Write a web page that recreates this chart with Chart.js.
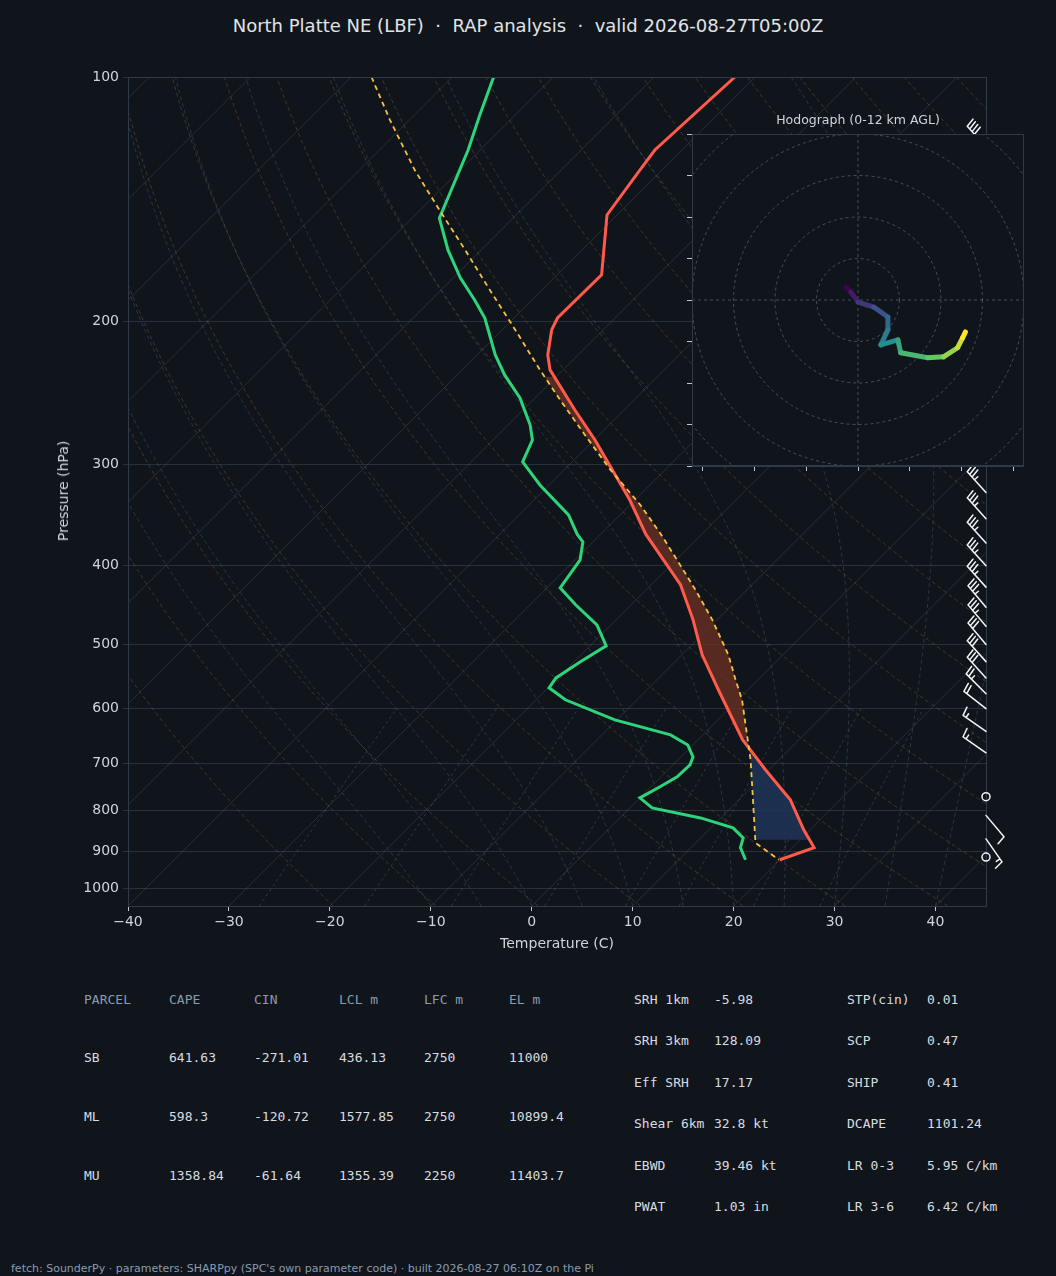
<!DOCTYPE html>
<html><head><meta charset="utf-8">
<script src="https://cdn.jsdelivr.net/npm/chart.js@4.4.1/dist/chart.umd.min.js"></script>
<style>
html,body{margin:0;padding:0;background:#10151c;width:1056px;height:1276px;overflow:hidden;font-family:"DejaVu Sans",sans-serif;}
.abs{position:absolute;white-space:nowrap;}
.mono{font-family:"DejaVu Sans Mono",monospace;font-size:13px;color:#d8dce0;}
.hd{color:#8a9bb0;}
</style></head><body>
<div class="abs" style="left:0;width:1056px;top:15px;text-align:center;font-size:18px;color:#e0e4e8;">North Platte NE (LBF) &nbsp;·&nbsp; RAP analysis &nbsp;·&nbsp; valid 2026-08-27T05:00Z</div>
<canvas id="skew" width="1056" height="966" style="position:absolute;left:0;top:0;"></canvas>
<div class="abs" style="left:557px;top:935px;transform:translateX(-50%);font-size:14px;color:#d0d4da;">Temperature (C)</div>
<div class="abs" style="left:63px;top:491px;font-size:14px;color:#d0d4da;transform:translate(-50%,-50%) rotate(-90deg);">Pressure (hPa)</div>
<div class="abs" style="left:858px;top:112px;transform:translateX(-50%);font-size:12.5px;color:#d0d4da;">Hodograph (0-12 km AGL)</div>
<canvas id="hodo" width="344" height="344" style="position:absolute;left:680px;top:134px;"></canvas>
<div id="tables"></div>
<div class="abs" style="left:11px;top:1262px;font-size:11px;color:#8a9bb0;">fetch: SounderPy · parameters: SHARPpy (SPC's own parameter code) · built 2026-08-27 06:10Z on the Pi</div>
<script>
// ---------- data ----------
const tempP = [100,123,130.2,147.9,175.3,198.1,204.9,220,229.5,257,280,332,366,422,466,515,569,655,714,777,846,890,921];
const tempT = [-62.0,-62.7,-62.2,-61.0,-55.6,-55.7,-55.1,-53.0,-51.3,-44.9,-39.9,-30.5,-25.5,-17.1,-12.4,-8.0,-2.9,4.4,9.7,15.1,19.4,22.2,20.0];
const dewP = [100,111.4,123,149.2,163.3,176.8,188.2,198.1,220,232.8,248.5,268.4,280,297.9,318.1,346.3,366,373.9,393.4,425.9,446.8,473,502,525.4,549.8,565.5,585,619.4,646.2,665,687.9,703.7,727.8,748.8,772.6,794.9,817.9,841.4,865.6,890,921];
const dewT = [-85.9,-83.5,-81.2,-77.3,-73.3,-69.3,-65.7,-62.9,-58.2,-55.3,-51.5,-47.8,-46.1,-44.9,-40.9,-35.1,-32.3,-31.0,-29.5,-28.7,-25.5,-21.4,-18.4,-19.4,-20.2,-19.9,-17.1,-10.2,-3.2,-0.5,1.2,1.7,1.6,0.9,0.0,2.2,8.0,12.2,14.2,14.9,16.6];
const parcelP = [100,113,130.2,145.8,163.3,182.9,204.9,229.5,250,276,304.8,336.5,366,399,428.3,466,515,553,585,693.7,777,877.7,921];
const parcelT = [-98.0,-91.9,-84.5,-78.1,-71.6,-65.2,-58.7,-52.3,-47.3,-41.4,-35.4,-29.0,-24.0,-19.1,-15.1,-10.5,-5.4,-2.2,0.4,7.2,11.4,15.9,19.9];
const barbP   = [122,140,160,180,200,220,245,270,300,325,350,375,400,425,450,475,500,525,550,575,600,640,680,770,812,868,914];
const barbDir = [318,318,318,318,318,318,318,318,318,318,318,318,318,318,320,320,320,318,318,315,308,305,305,0,140,145,0];
const barbSpd = [40,40,40,40,40,40,40,40,40,35,35,35,35,35,35,35,30,30,30,25,20,15,15,0,10,15,0];
const hodoU = [-2.9,-1.7,0,3.8,7.2,7.2,5.5,9.6,10.3,16.8,20.6,24.0,25.2,25.9];
const hodoV = [3.1,1.9,-0.5,-1.7,-4.1,-7.2,-10.8,-9.6,-12.7,-13.9,-13.7,-11.5,-9.1,-7.7];
const yTicks = [100,200,300,400,500,600,700,800,900,1000];
const xTicks = [-40,-30,-20,-10,0,10,20,30,40];
const tableHead = ["PARCEL","CAPE","CIN","LCL m","LFC m","EL m"];
const tableRows = [["SB","641.63","-271.01","436.13","2750","11000"],["ML","598.3","-120.72","1577.85","2750","10899.4"],["MU","1358.84","-61.64","1355.39","2250","11403.7"]];
const paramNames = [["SRH 1km","-5.98","STP(cin)","0.01"],["SRH 3km","128.09","SCP","0.47"],["Eff SRH","17.17","SHIP","0.41"],["Shear 6km","32.8 kt","DCAPE","1101.24"],["EBWD","39.46 kt","LR 0-3","5.95 C/km"],["PWAT","1.03 in","LR 3-6","6.42 C/km"]];

// ---------- tables ----------
(function(){
  let h='';const cx=[84,169,254,339,424,509];
  tableHead.forEach((t,i)=>h+=`<div class="abs mono hd" style="left:${cx[i]}px;top:992px">${t}</div>`);
  const ry=[1050,1109,1168];
  tableRows.forEach((r,j)=>r.forEach((t,i)=>h+=`<div class="abs mono" style="left:${cx[i]}px;top:${ry[j]}px">${t}</div>`));
  const py=[992,1033,1075,1116,1158,1199];const px=[634,714,847,927];
  paramNames.forEach((r,j)=>r.forEach((t,i)=>h+=`<div class="abs mono" style="left:${px[i]}px;top:${py[j]}px">${t}</div>`));
  document.getElementById('tables').innerHTML=h;
})();

// ---------- skew-T ----------
const PBOT=1050, PTOP=100, K=80.42;
const skewX=(T,p)=>T+K*Math.log10(PBOT/p);
const pts=(P,T)=>P.map((p,i)=>({x:skewX(T[i],p),y:p}));
function interpLog(P,T,p){
  for(let i=0;i<P.length-1;i++){
    const a=P[i],b=P[i+1];
    if((p>=a&&p<=b)||(p<=a&&p>=b)){const f=(Math.log(p)-Math.log(a))/(Math.log(b)-Math.log(a));return T[i]+f*(T[i+1]-T[i]);}
  }
  return null;
}
function moistLine(T0){
  const out=[];let T=T0+273.15;
  for(let p=PBOT;p>=PTOP;p-=5){
    out.push([T-273.15,p]);
    const Tc=T-273.15;const es=6.112*Math.exp(17.67*Tc/(Tc+243.5));const rs=0.622*es/(p-es);
    const dTdp=(287*T+2.5e6*rs)/(1005+2.5e6*2.5e6*rs*0.622/(287*T*T))/p;
    T-=dTdp*5;
  }
  return out;
}
const bgPlugin={id:'bg',beforeDatasetsDraw(c){
  const ctx=c.ctx,xs=c.scales.x,ys=c.scales.y,a=c.chartArea;
  const P=(T,p)=>[xs.getPixelForValue(skewX(T,p)),ys.getPixelForValue(p)];
  ctx.save();ctx.beginPath();ctx.rect(a.left,a.top,a.right-a.left,a.bottom-a.top);ctx.clip();
  const poly=(arr,col,dash,lw)=>{ctx.beginPath();ctx.strokeStyle=col;ctx.setLineDash(dash);ctx.lineWidth=lw||1;
    arr.forEach((q,i)=>{const [x,y]=P(q[0],q[1]);i?ctx.lineTo(x,y):ctx.moveTo(x,y);});ctx.stroke();};
  for(let T=-160;T<=50;T+=10) poly([[T,PBOT],[T,PTOP]],'rgba(140,150,165,0.2)',[]);
  for(let th=250;th<=480;th+=10){const arr=[];for(let p=PBOT;p>=PTOP;p-=10)arr.push([th*Math.pow(p/1000,0.2857)-273.15,p]);poly(arr,'rgba(170,120,70,0.33)',[4,3]);}
  for(let T0=-10;T0<=45;T0+=5) poly(moistLine(T0),'rgba(90,120,150,0.33)',[4,3]);
  [0.4,1,2,4,7,10,16,24].forEach(w=>{const arr=[];for(let p=PBOT;p>=600;p-=10){const e=w*p/(622+w);const l=Math.log(e/6.112);arr.push([243.5*l/(17.67-l),p]);}poly(arr,'rgba(90,140,130,0.33)',[3,3]);});
  ctx.setLineDash([]);
  const region=(p1,p2,col)=>{const top=[],bot=[];
    for(let p=p1;p>=p2;p-=2){const t=interpLog(tempP,tempT,p),pc=interpLog(parcelP,parcelT,p);top.push([pc,p]);bot.push([t,p]);}
    ctx.beginPath();ctx.fillStyle=col;
    top.concat(bot.reverse()).forEach((q,i)=>{const [x,y]=P(q[0],q[1]);i?ctx.lineTo(x,y):ctx.moveTo(x,y);});ctx.closePath();ctx.fill();};
  region(652,233,'rgba(110,50,35,0.75)');
  region(870,654,'rgba(30,52,88,0.85)');
  ctx.restore();
},
afterDraw(c){
  const ctx=c.ctx,a=c.chartArea,ys=c.scales.y;
  ctx.save();ctx.strokeStyle='#2e3a48';ctx.lineWidth=1;ctx.strokeRect(a.left+0.5,a.top+0.5,a.right-a.left,a.bottom-a.top);
  ctx.strokeStyle='#f2f4f6';ctx.lineWidth=1.5;ctx.lineCap='round';
  barbP.forEach((p,i)=>{
    const x=a.right,y=ys.getPixelForValue(p),s=barbSpd[i];
    if(s<2.5){ctx.beginPath();ctx.arc(x,y,4,0,2*Math.PI);ctx.stroke();return;}
    const r=barbDir[i]*Math.PI/180,dx=Math.sin(r),dy=-Math.cos(r),L=28;
    const tx=x+dx*L,ty=y+dy*L;ctx.beginPath();ctx.moveTo(x,y);ctx.lineTo(tx,ty);
    const px=-dy,py=dx;let rem=s,pos=0;
    while(rem>=7.5){const bx=tx-dx*pos,by=ty-dy*pos;ctx.moveTo(bx,by);ctx.lineTo(bx+px*9+dx*1.5,by+py*9+dy*1.5);rem-=10;pos+=3.6;}
    if(rem>=2.5){if(pos===0)pos=3.6;const bx=tx-dx*pos,by=ty-dy*pos;ctx.moveTo(bx,by);ctx.lineTo(bx+px*4.5,by+py*4.5);}
    ctx.stroke();
  });
  ctx.restore();
}};
new Chart(document.getElementById('skew'),{
  type:'scatter',
  data:{datasets:[
    {data:pts(parcelP,parcelT),showLine:true,borderColor:'#f5c242',borderWidth:1.8,borderDash:[5,4],pointRadius:0},
    {data:pts(tempP,tempT),showLine:true,borderColor:'#ff5a4a',borderWidth:3,pointRadius:0},
    {data:pts(dewP,dewT),showLine:true,borderColor:'#2ed47a',borderWidth:3,pointRadius:0}
  ]},
  options:{responsive:false,animation:false,devicePixelRatio:1,
    layout:{padding:{top:77,right:70,left:0,bottom:0}},
    plugins:{legend:{display:false},tooltip:{enabled:false}},
    scales:{
      x:{type:'linear',min:-40,max:45,afterFit:s=>{s.height=60;},
        afterBuildTicks:s=>{s.ticks=xTicks.map(v=>({value:v}));},
        ticks:{color:'#d0d4da',font:{size:14,family:'DejaVu Sans'},callback:v=>v<0?'\u2212'+Math.abs(v):''+v},
        grid:{drawOnChartArea:false,color:'#c0c6cc',tickLength:5},border:{color:'#2e3a48'}},
      y:{type:'logarithmic',reverse:true,min:PTOP,max:PBOT,afterFit:s=>{s.width=128;},
        afterBuildTicks:s=>{s.ticks=yTicks.map(v=>({value:v}));},
        ticks:{color:'#d0d4da',font:{size:14,family:'DejaVu Sans'},callback:v=>''+v,padding:4},
        grid:{color:'#27313c',tickLength:5},border:{color:'#2e3a48'}}
    }},
  plugins:[bgPlugin]
});

// ---------- hodograph ----------
const vir=['#440154','#3b528b','#21918c','#5ec962','#fde725'];
function viridis(t){t=Math.max(0,Math.min(1,t));const n=vir.length-1,i=Math.min(n-1,Math.floor(t*n)),f=t*n-i;
  const h=s=>[1,3,5].map(k=>parseInt(s.substr(k,2),16));const a=h(vir[i]),b=h(vir[i+1]);
  return 'rgb('+a.map((v,k)=>Math.round(v+(b[k]-v)*f)).join(',')+')';}
const hodoPlugin={id:'hbg',beforeDraw(c){const a=c.chartArea,ctx=c.ctx;ctx.save();ctx.fillStyle='#10151c';ctx.fillRect(a.left,a.top,a.right-a.left,a.bottom-a.top);ctx.restore();},
  beforeDatasetsDraw(c){const a=c.chartArea,ctx=c.ctx,xs=c.scales.x,ys=c.scales.y;
    ctx.save();ctx.beginPath();ctx.rect(a.left,a.top,a.right-a.left,a.bottom-a.top);ctx.clip();
    ctx.strokeStyle='rgba(110,125,145,0.55)';ctx.setLineDash([3,3]);ctx.lineWidth=1;
    const cx=xs.getPixelForValue(0),cy=ys.getPixelForValue(0);
    for(let k=10;k<=60;k+=10){const r=xs.getPixelForValue(k)-cx;ctx.beginPath();ctx.arc(cx,cy,r,0,2*Math.PI);ctx.stroke();}
    ctx.beginPath();ctx.moveTo(a.left,cy);ctx.lineTo(a.right,cy);ctx.moveTo(cx,a.top);ctx.lineTo(cx,a.bottom);ctx.stroke();
    ctx.setLineDash([]);ctx.strokeStyle='#2e3a48';ctx.strokeRect(a.left+0.5,a.top+0.5,a.right-a.left-1,a.bottom-a.top-1);ctx.restore();}};
new Chart(document.getElementById('hodo'),{
  type:'scatter',
  data:{datasets:[{data:hodoU.map((u,i)=>({x:u,y:hodoV[i]})),showLine:true,borderWidth:5,pointRadius:0,borderCapStyle:'round',borderJoinStyle:'round',
    segment:{borderColor:ctx=>viridis(ctx.p0DataIndex/(hodoU.length-2))}}]},
  options:{responsive:false,animation:false,devicePixelRatio:1,layout:{padding:0},
    plugins:{legend:{display:false},tooltip:{enabled:false}},
    scales:{
      x:{type:'linear',min:-40,max:40,afterFit:s=>{s.height=12;},afterBuildTicks:s=>{s.ticks=[-37.5,-25,-12.5,0,12.5,25,37.5].map(v=>({value:v}));},
        ticks:{display:false},grid:{drawOnChartArea:false,color:'#c0c6cc',tickLength:5},border:{color:'#2e3a48'}},
      y:{type:'linear',min:-40,max:40,afterFit:s=>{s.width=12;},afterBuildTicks:s=>{s.ticks=[-40,-30,-20,-10,0,10,20,30,40].map(v=>({value:v}));},
        ticks:{display:false},grid:{drawOnChartArea:false,color:'#c0c6cc',tickLength:5},border:{color:'#2e3a48'}}
    }},
  plugins:[hodoPlugin]
});
</script></body></html>
